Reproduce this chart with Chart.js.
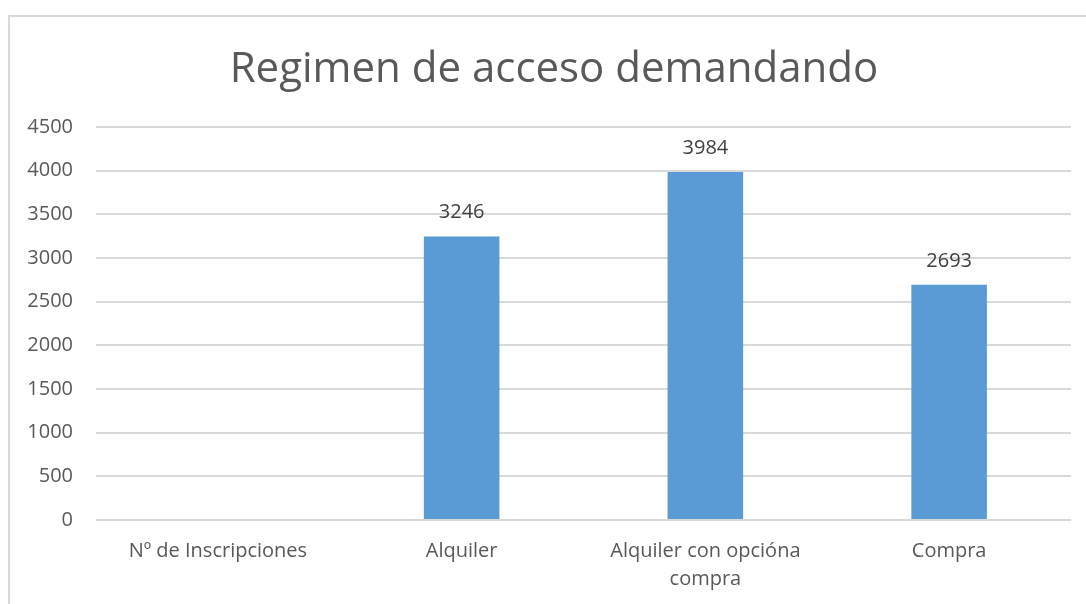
<!DOCTYPE html>
<html>
<head>
<meta charset="utf-8">
<script src="https://cdn.jsdelivr.net/npm/chart.js@4"></script>
<style>
    body { margin: 0; background: #fff; overflow: hidden; }
    #frame { position: absolute; left: 8px; top: 15px; width: 1200px; height: 700px; border: 2px solid #d9d9d9; }
    #wrap { position: absolute; left: 0; top: 0; width: 1086px; height: 604px; }
</style>
</head>
<body>
<div id="frame"></div>
<div id="wrap"><canvas id="chart"></canvas></div>
<script>
const chartTitle = 'Regimen de acceso demandando';
const categories = ['Nº de Inscripciones', 'Alquiler', ['Alquiler con opcióna', 'compra'], 'Compra'];
const values = [null, 3246, 3984, 2693];
const yTicks = [0, 500, 1000, 1500, 2000, 2500, 3000, 3500, 4000, 4500];

const textColor = '#595959';
const fontFamily = "'Open Sans', sans-serif";

// title is centred on the whole chart frame, not on the canvas
const frameTitle = {
    id: 'frameTitle',
    afterDraw(chart) {
        const ctx = chart.ctx;
        ctx.save();
        ctx.font = '42px ' + fontFamily;
        ctx.fillStyle = textColor;
        ctx.textAlign = 'center';
        ctx.textBaseline = 'middle';
        ctx.fillText(chartTitle, 554, 70);
        ctx.restore();
    }
};

// draw the value above each bar
const valueLabels = {
    id: 'valueLabels',
    afterDatasetsDraw(chart) {
        const ctx = chart.ctx;
        const meta = chart.getDatasetMeta(0);
        ctx.save();
        ctx.font = '20px ' + fontFamily;
        ctx.fillStyle = '#404040';
        ctx.textAlign = 'center';
        ctx.textBaseline = 'bottom';
        meta.data.forEach((bar, i) => {
            if (values[i] == null) return;
            ctx.fillText(String(values[i]), bar.x, bar.y - 14);
        });
        ctx.restore();
    }
};

new Chart(document.getElementById('chart'), {
    type: 'bar',
    data: {
        labels: categories,
        datasets: [{
            data: values,
            backgroundColor: '#5b9bd5',
            barPercentage: 0.31,
            categoryPercentage: 1
        }]
    },
    options: {
        responsive: true,
        maintainAspectRatio: false,
        animation: false,
        layout: { padding: { left: 0, right: 15, top: 127, bottom: 0 } },
        plugins: {
            legend: { display: false },
            tooltip: { enabled: false },
            title: { display: false }
        },
        scales: {
            x: {
                grid: { display: false, drawTicks: false },
                border: { display: false },
                ticks: {
                    color: textColor,
                    font: { family: fontFamily, size: 20, lineHeight: 1.4 },
                    padding: 17,
                    maxRotation: 0,
                    autoSkip: false
                },
                afterFit(scale) { scale.height = 84; }
            },
            y: {
                min: 0,
                max: 4500,
                afterBuildTicks(scale) { scale.ticks = yTicks.map(v => ({ value: v })); },
                grid: { color: '#d9d9d9', lineWidth: 2, drawTicks: false },
                border: { display: false },
                ticks: {
                    color: textColor,
                    font: { family: fontFamily, size: 20 },
                    padding: 23,
                    callback: v => String(v)
                },
                afterFit(scale) { scale.width = 96; }
            }
        }
    },
    plugins: [valueLabels, frameTitle]
});
</script>
</body>
</html>
